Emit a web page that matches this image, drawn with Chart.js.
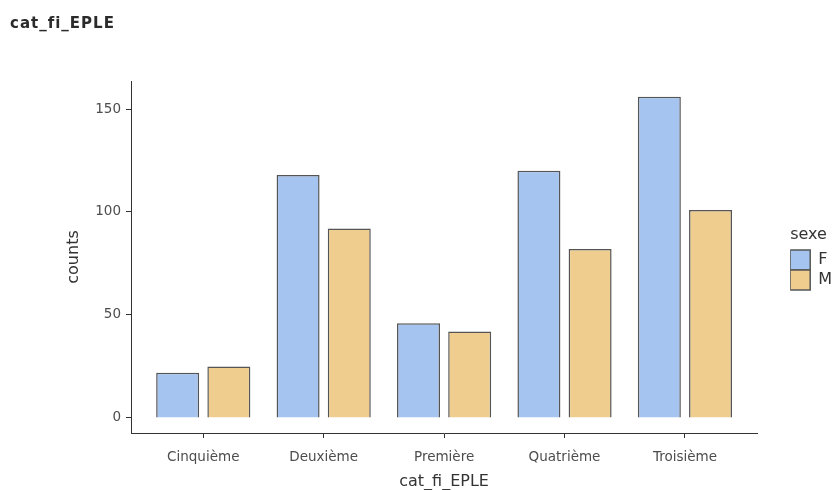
<!DOCTYPE html>
<html>
<head>
<meta charset="utf-8">
<script src="https://cdn.jsdelivr.net/npm/chart.js@4.4.0/dist/chart.umd.min.js"></script>
<style>
  html, body { margin: 0; padding: 0; background: #fff; }
  #wrap { position: relative; width: 838px; height: 490px; }
  #title {
    position: absolute; left: 10px; top: 14px;
    font: bold 15px 'DejaVu Sans'; letter-spacing: 1px; color: #2b2b2b;
  }
</style>
</head>
<body>
<div id="wrap">
  <div id="title">cat_fi_EPLE</div>
  <canvas id="myChart" width="838" height="490"></canvas>
</div>
<script>
// data
var categories = ['Cinquième', 'Deuxième', 'Première', 'Quatrième', 'Troisième'];
var countsF = [22, 118, 46, 120, 156];
var countsM = [25, 92, 42, 82, 101];
var yTicks = [0, 50, 100, 150];

var tickFont = { family: 'DejaVu Sans', size: 13.5 };
var titleFont = { family: 'DejaVu Sans', size: 16, lineHeight: 1 };

function toPoints(values) {
  return values.map(function (v, i) { return { x: i + 1, y: v }; });
}

// push the legend away from the plot, like ggplot does
var legendGap = {
  id: 'legendGap',
  afterInit: function (chart) {
    var lg = chart.legend;
    var fit = lg.fit;
    lg.fit = function () { fit.call(this); this.width += 29; };
  },
  afterLayout: function (chart) {
    chart.legend.left += 33;
    chart.legend.top -= 27;
    chart.legend.bottom -= 27;
  }
};

var ctx = document.getElementById('myChart').getContext('2d');
var chart = new Chart(ctx, {
  type: 'bar',
  data: {
    datasets: [{
      label: 'F',
      data: toPoints(countsF),
      backgroundColor: 'rgb(165, 196, 240)',
      borderColor: '#555555',
      borderWidth: 1.5,
      categoryPercentage: 0.85,
      barPercentage: 0.84
    },
    {
      label: 'M',
      data: toPoints(countsM),
      backgroundColor: 'rgb(238, 205, 142)',
      borderColor: '#555555',
      borderWidth: 1.5,
      categoryPercentage: 0.85,
      barPercentage: 0.84
    }]
  },
  plugins: [legendGap],
  options: {
    responsive: false,
    animation: false,
    layout: { padding: { left: 10, right: 0, top: 81, bottom: 0 } },
    plugins: {
      tooltip: { enabled: false },
      legend: {
        position: 'right',
        align: 'center',
        title: {
          display: true,
          text: 'sexe',
          position: 'start',
          color: '#333',
          font: { family: 'DejaVu Sans', size: 16 },
          padding: { top: 0, bottom: 4 }
        },
        labels: {
          boxWidth: 20,
          boxHeight: 20,
          padding: 0,
          color: '#333',
          font: { family: 'DejaVu Sans', size: 16 }
        }
      }
    },
    scales: {
      x: {
        type: 'linear',
        offset: false,
        min: 0.4,
        max: 5.6,
        afterBuildTicks: function (scale) {
          scale.ticks = categories.map(function (c, i) { return { value: i + 1 }; });
        },
        afterFit: function (scale) { scale.height = 57; },
        ticks: {
          autoSkip: false,
          maxRotation: 0,
          color: '#4d4d4d',
          font: tickFont,
          padding: 11,
          callback: function (v) { return categories[v - 1]; }
        },
        grid: { offset: false, drawOnChartArea: false, drawTicks: true, tickLength: 5, color: '#333', lineWidth: 1 },
        border: { display: true, color: '#333', width: 1 },
        title: { display: true, text: 'cat_fi_EPLE', color: '#333', font: titleFont, padding: { top: 0, bottom: 0 } }
      },
      y: {
        min: -7.3,
        max: 163.6,
        afterBuildTicks: function (scale) {
          scale.ticks = yTicks.map(function (v) { return { value: v }; });
        },
        afterFit: function (scale) { scale.width = 121; },
        ticks: { color: '#4d4d4d', font: tickFont, padding: 5 },
        grid: { drawOnChartArea: false, drawTicks: true, tickLength: 5, color: '#333', lineWidth: 1 },
        border: { display: true, color: '#333', width: 1 },
        title: { display: true, text: 'counts', color: '#333', font: titleFont, padding: { top: 56, bottom: 0 } }
      }
    }
  }
});
</script>
</body>
</html>
